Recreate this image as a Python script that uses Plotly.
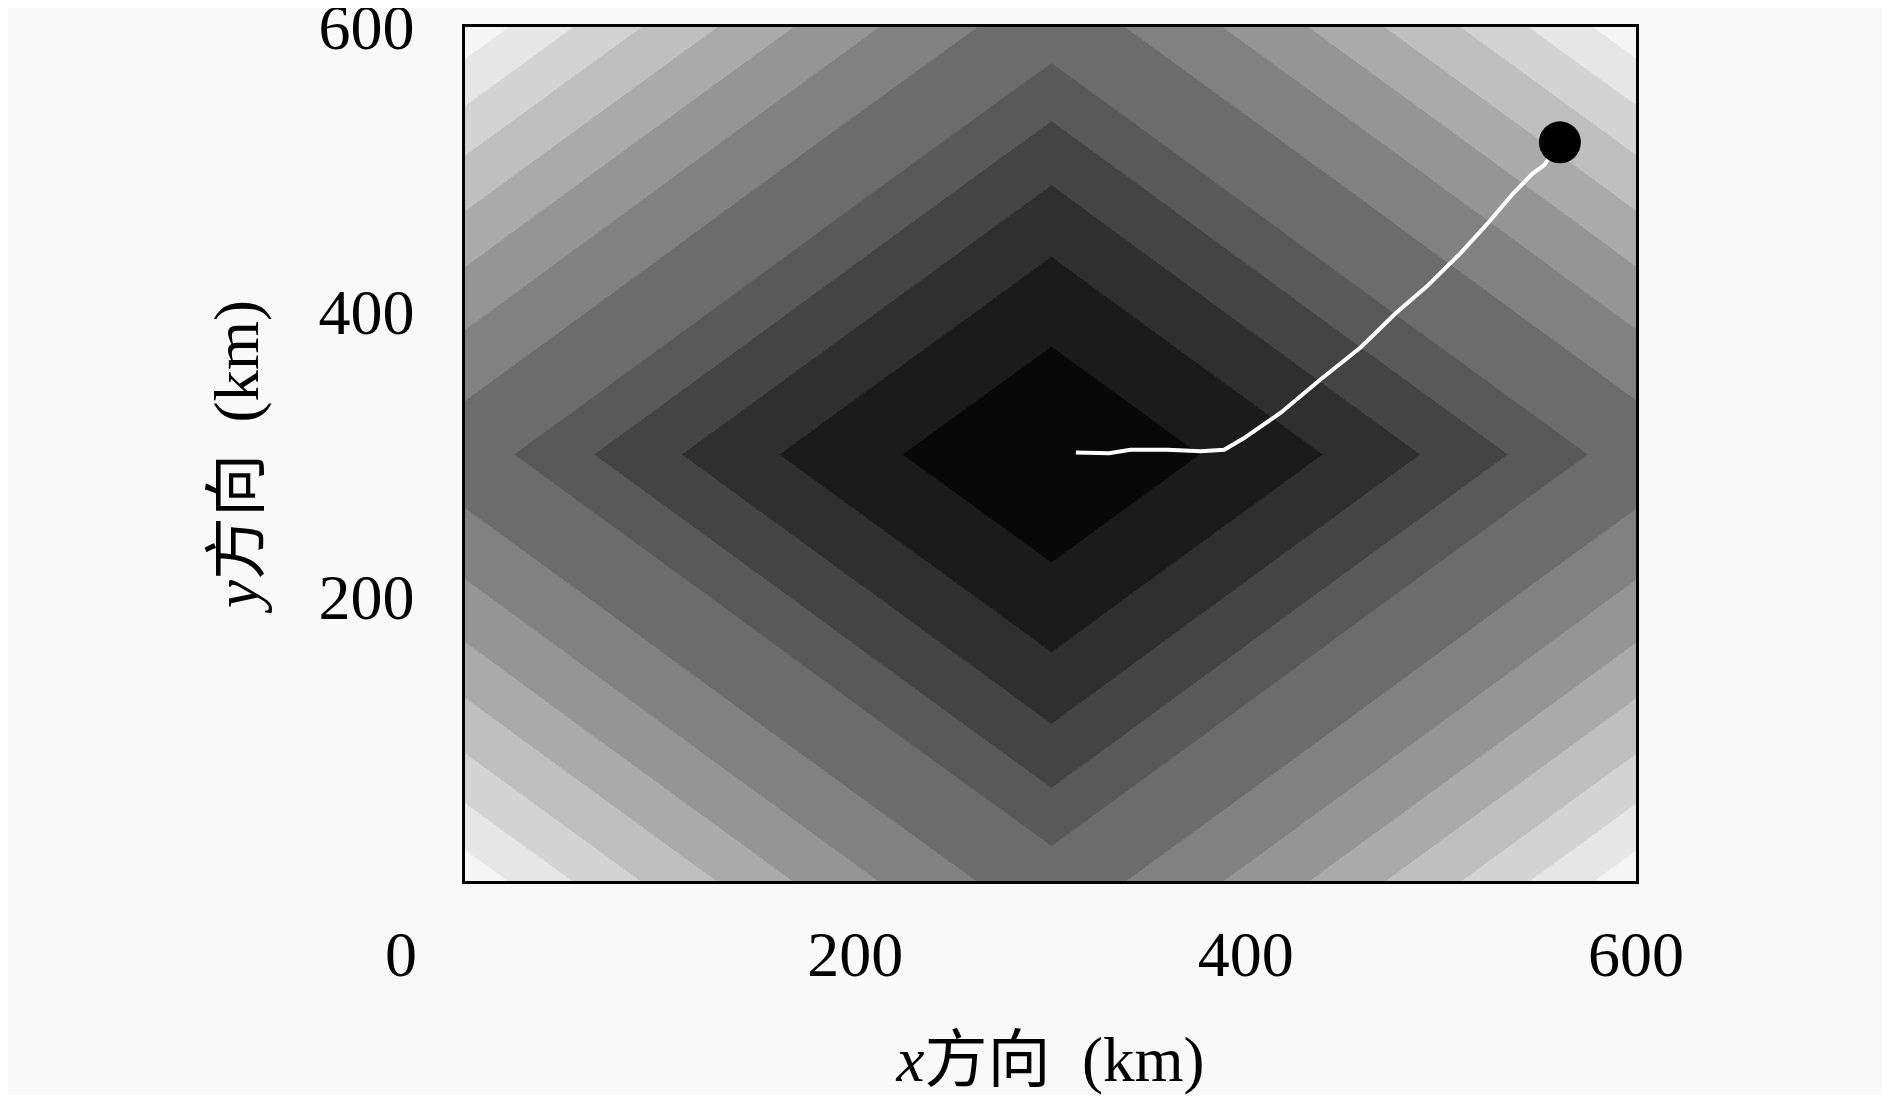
import plotly.graph_objects as go

# grid nodes (km) and the value field
grid_km = [0, 100, 200, 300, 400, 500, 600]
field = [
    [600, 500, 400, 300, 400, 500, 600],
    [500, 400, 300, 200, 300, 400, 500],
    [400, 300, 200, 100, 200, 300, 400],
    [300, 200, 100, 0, 100, 200, 300],
    [400, 300, 200, 100, 200, 300, 400],
    [500, 400, 300, 200, 300, 400, 500],
    [600, 500, 400, 300, 400, 500, 600],
]

# grey bands: edges of each band and its grey level
band_edges = [0, 76, 139, 189, 234, 275, 338, 388, 432, 471, 510, 545, 578, 600]
band_grey = [8, 27, 47, 68, 89, 108, 129, 149, 170, 191, 211, 230, 245]

# track
track_x = [313, 330, 341, 360, 377, 389, 399, 418, 438, 459, 477, 493, 510, 524, 537, 547, 553, 561]
track_y = [301, 300.5, 303, 303, 302, 303, 311, 329, 352, 375, 399, 418, 441, 462, 483, 497, 503, 519]

end_x = [561]
end_y = [519]

x_ticks = [0, 200, 400, 600]
x_labels = ["0" + "\u00a0" * 8, "200", "400", "600"]
y_ticks = [200, 400, 600]
y_labels = ["200", "400", "600"]

zmax = band_edges[-1]
scale = []
for i, g in enumerate(band_grey):
    c = "rgb(%d,%d,%d)" % (g, g, g)
    scale.append([band_edges[i] / zmax, c])
    scale.append([band_edges[i + 1] / zmax, c])

fig = go.Figure()
fig.add_trace(go.Heatmap(x=grid_km, y=grid_km, z=field, zsmooth="best",
                         colorscale=scale, zmin=0, zmax=zmax,
                         showscale=False, hoverinfo="skip"))
fig.add_trace(go.Scatter(x=track_x, y=track_y, mode="lines",
                         line=dict(color="white", width=4),
                         showlegend=False))
fig.add_trace(go.Scatter(x=end_x, y=end_y, mode="markers",
                         marker=dict(color="black", size=42, line=dict(width=0)),
                         showlegend=False))

serif = "Liberation Serif, Noto Sans CJK SC, serif"
axis_style = dict(range=[0, 600], showgrid=False, zeroline=False,
                  showline=True, mirror=True, linecolor="black", linewidth=2.5,
                  ticks="", automargin=False, ticklabeloverflow="allow",
                  tickfont=dict(family=serif, size=64, color="black"))

# page body keeps an 8px margin, so the figure is 16px smaller
fig.update_xaxes(**axis_style, tickvals=x_ticks, ticktext=x_labels,
                 ticklabelstandoff=15,
                 title=dict(text="<i>x</i>方向\u00a0\u00a0(km)", standoff=58,
                            font=dict(family=serif, size=63, color="black")))
fig.update_yaxes(**axis_style, tickvals=y_ticks, ticktext=y_labels,
                 ticklabelstandoff=35,
                 title=dict(text="<i>y</i>方向\u00a0\u00a0(km)", standoff=40,
                            font=dict(family=serif, size=63, color="black")))

fig.update_layout(width=1874, height=1087, autosize=False,
                  margin=dict(l=457, r=246, t=19, b=214, pad=0),
                  paper_bgcolor="#f9f9f9", plot_bgcolor="#f9f9f9",
                  showlegend=False)

fig.write_html("out.html")
